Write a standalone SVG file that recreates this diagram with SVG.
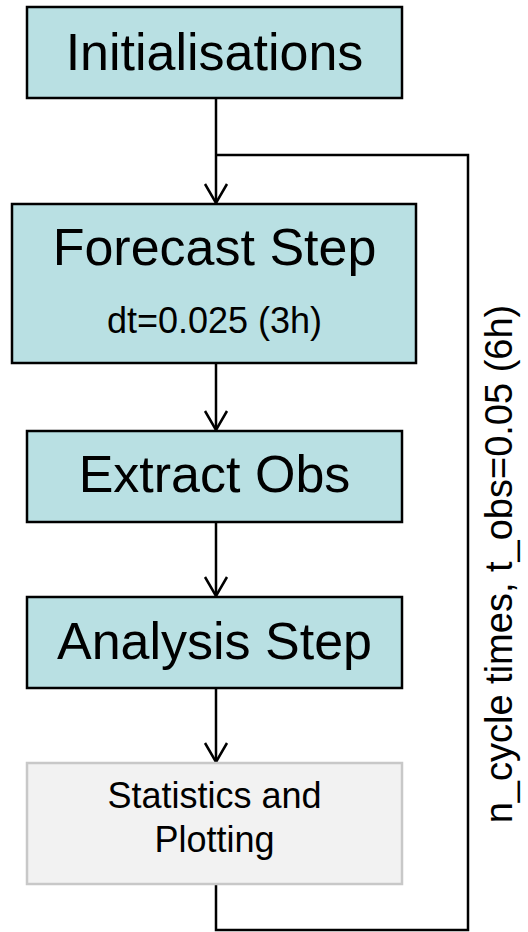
<svg xmlns="http://www.w3.org/2000/svg" width="528" height="932" viewBox="0 0 528 932">
<style>
.box{fill:#b9e0e3;stroke:#000;stroke-width:2.5}
.gbox{fill:#f2f2f2;stroke:#c8c8c8;stroke-width:2.5}
.t{font-family:"Liberation Sans",Arial,sans-serif;fill:#000;text-anchor:middle}
.big{font-size:52px}
.mid{font-size:36px}
.line{fill:none;stroke:#000;stroke-width:2.5}
</style>
<defs>
<marker id="arr" markerUnits="userSpaceOnUse" markerWidth="30" markerHeight="30" refX="20" refY="15" orient="auto" viewBox="0 0 30 30">
<path d="M1,4 L20,15 L1,26" fill="none" stroke="#000" stroke-width="2.5"/>
</marker>
</defs>
<rect width="528" height="932" fill="#fff"/>
<g id="connectors">
<path class="line" d="M216,98 V203" marker-end="url(#arr)"/>
<path class="line" d="M216,363 V430" marker-end="url(#arr)"/>
<path class="line" d="M216,522 V596" marker-end="url(#arr)"/>
<path class="line" d="M216,688 V762" marker-end="url(#arr)"/>
<path class="line" d="M216,884 V930 H468 V155 H216"/>
</g>
<g id="init">
<rect class="box" x="27" y="7" width="375" height="91"/>
<text class="t big" x="214.5" y="70">Initialisations</text>
</g>
<g id="forecast">
<rect class="box" x="12" y="204" width="404" height="159"/>
<text class="t big" x="214.5" y="265">Forecast Step</text>
<text class="t mid" x="214.5" y="333">dt=0.025 (3h)</text>
</g>
<g id="extract">
<rect class="box" x="27" y="431" width="375" height="91"/>
<text class="t big" x="214.5" y="492">Extract Obs</text>
</g>
<g id="analysis">
<rect class="box" x="27" y="597" width="375" height="91"/>
<text class="t big" x="214.5" y="659">Analysis Step</text>
</g>
<g id="stats">
<rect class="gbox" x="27" y="763" width="375" height="121"/>
<text class="t mid" x="214.5" y="808">Statistics and</text>
<text class="t mid" x="214.5" y="852">Plotting</text>
</g>
<g id="loop-label">
<text class="t" style="font-size:38px" transform="translate(512,564) rotate(-90)">n_cycle times, t_obs=0.05 (6h)</text>
</g>
</svg>
